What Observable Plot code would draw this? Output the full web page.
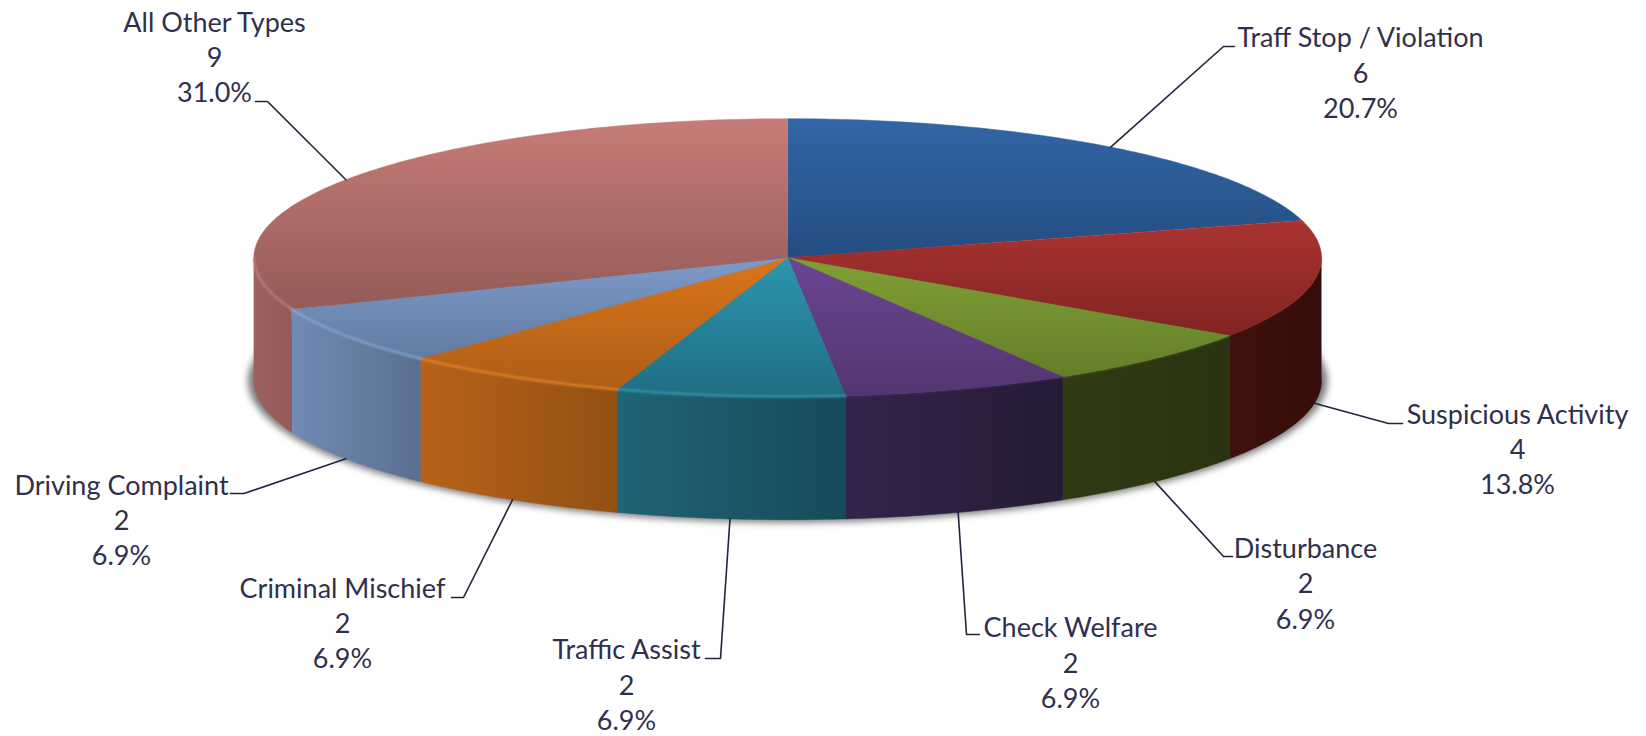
<!DOCTYPE html>
<html>
<head>
<meta charset="utf-8">
<style>html,body{margin:0;padding:0;background:#fff}</style>
<script src="https://cdn.jsdelivr.net/npm/d3@7"></script>
<script src="https://cdn.jsdelivr.net/npm/@observablehq/plot@0.6"></script>
</head>
<body>
<div id="chart"></div>
<script>
// Data, clockwise from 12 o'clock
const categories = ["Traff Stop / Violation","Suspicious Activity","Disturbance","Check Welfare","Traffic Assist","Criminal Mischief","Driving Complaint","All Other Types"];
const counts = [6,4,2,2,2,2,2,9];
const percents = ["20.7%","13.8%","6.9%","6.9%","6.9%","6.9%","6.9%","31.0%"];

// Colours: top face (top/bottom of gradient), side (left/right of gradient), rim highlight
const topLight = ["#3366a6","#ab3330","#80a034","#6b4593","#2d95af","#da751c","#7e9ac8","#c67c78"];
const topDark  = ["#234d80","#812422","#627e2a","#533670","#1f6e82","#ae5e16","#627ba2","#945b58"];
const sideLeft = ["#234d80","#3f110e","#303b14","#34244a","#1f6476","#b7631a","#728bb5","#9c625f"];
const sideRight= ["#234d80","#360d0a","#2a3311","#251b35","#174a59","#925013","#5a6f90","#935a58"];
const rimColor = ["#3366a6","#8f2a27","#6f8c2e","#5b3d80","#3aa3bd","#ee8a2c","#8eacdc","#d29390"];
const rimAlpha = [0,0,0.25,0.3,0.7,0.75,0.7,0.5];

// Geometry of the tilted disc
const cx = 787.2, cy = 257.2, rx = 533.8, ry = 139, depth = 123;

// Label layout: block centre, leader elbow, leader end
const labelX = [1360,1517,1305,1070,626,342,121,214];
const labelY = [70.8,447,581.5,660.8,682.8,621.3,518.3,55];
const elbowX = [1223,1388,1223,966,720,463,243.5,267];
const elbowY = [46,423,556,634,658,597,493,101];
const endX   = [1234,1402,1232,979,705,451,230,255];

const TAU = Math.PI*2;
const total = d3.sum(counts);
let cum = 0;
const slices = counts.map((c,i)=>{const a0=cum/total*TAU; cum+=c; return {i,a0,a1:cum/total*TAU};});

const px = (a,dy=0)=>({x:cx+rx*Math.sin(a), y:cy-ry*Math.cos(a)+dy});
function arc(a0,a1,dy=0){
  const n=Math.max(2,Math.ceil((a1-a0)/0.01)), out=[];
  for(let k=0;k<=n;k++) out.push(px(a0+(a1-a0)*k/n,dy));
  return out;
}
function wedge(s){ return [{x:cx,y:cy},...arc(s.a0,s.a1)]; }
function sidePoly(s){
  const a0=Math.max(s.a0,Math.PI/2), a1=Math.min(s.a1,Math.PI*1.5);
  if(a1<=a0) return null;
  return [...arc(a0,a1),...arc(a0,a1,depth).reverse()];
}
function frontRim(s){
  const a0=Math.max(s.a0,Math.PI/2), a1=Math.min(s.a1,Math.PI*1.5);
  return a1>a0?arc(a0,a1):null;
}

function defs(){
  const ns="http://www.w3.org/2000/svg";
  const d=document.createElementNS(ns,"defs");
  const grad=(id,c0,c1,vertical)=>{
    const g=document.createElementNS(ns,"linearGradient");
    g.setAttribute("id",id);
    g.setAttribute("x1",0);g.setAttribute("y1",0);
    g.setAttribute("x2",vertical?0:1);g.setAttribute("y2",vertical?1:0);
    [[0,c0],[1,c1]].forEach(([o,c])=>{
      const st=document.createElementNS(ns,"stop");
      st.setAttribute("offset",o);st.setAttribute("stop-color",c);g.appendChild(st);
    });
    d.appendChild(g);
  };
  categories.forEach((_,i)=>{
    grad("top"+i,topLight[i],topDark[i],true);
    grad("side"+i,sideLeft[i],sideRight[i],false);
  });
  return d;
}

const marks=[defs];
// drop shadow under the disc
marks.push(Plot.line(arc(0,TAU).map(p=>({x:cx+(p.x-cx)*1.011,y:cy+(p.y-cy)*1.02+123})),
  {x:"x",y:"y",fill:"#7a7a7a",stroke:"none",imageFilter:"blur(3.5px)"}));
// sides
slices.forEach(s=>{
  const p=sidePoly(s);
  if(p) marks.push(Plot.line(p,{x:"x",y:"y",fill:`url(#side${s.i})`,stroke:`url(#side${s.i})`,strokeWidth:0.5}));
});
// top faces
slices.forEach(s=>{
  marks.push(Plot.line(wedge(s),{x:"x",y:"y",fill:`url(#top${s.i})`,stroke:`url(#top${s.i})`,strokeWidth:0.5}));
});
// rim highlight
slices.forEach(s=>{
  const p=frontRim(s);
  if(p && rimAlpha[s.i]>0) marks.push(Plot.line(p,{x:"x",y:"y",stroke:rimColor[s.i],strokeWidth:2.5,strokeOpacity:rimAlpha[s.i],imageFilter:"blur(1px)"}));
});
// leaders
slices.forEach(s=>{
  const mid=(s.a0+s.a1)/2;
  const front=Math.cos(mid)<0;
  const a=px(mid,front?depth:0);
  marks.push(Plot.line([a,{x:elbowX[s.i],y:elbowY[s.i]},{x:endX[s.i],y:elbowY[s.i]}],
    {x:"x",y:"y",stroke:"#23233f",strokeWidth:1.6}));
});
// labels
const labels=categories.map((c,i)=>({x:labelX[i],y:labelY[i],t:`${c}\n${counts[i]}\n${percents[i]}`}));
marks.push(Plot.text(labels,{x:"x",y:"y",text:"t",fontFamily:"Lato, Carlito, sans-serif",fontSize:27,lineHeight:1.305,fill:"#30304d",textAnchor:"middle",lineAnchor:"middle"}));

const chart=Plot.plot({
  width:1646,height:736,margin:0,
  x:{domain:[0,1646],range:[0,1646],axis:null},
  y:{domain:[0,736],range:[0,736],axis:null},
  style:{background:"#fff"},
  marks
});
document.getElementById("chart").appendChild(chart);
</script>
</body>
</html>
